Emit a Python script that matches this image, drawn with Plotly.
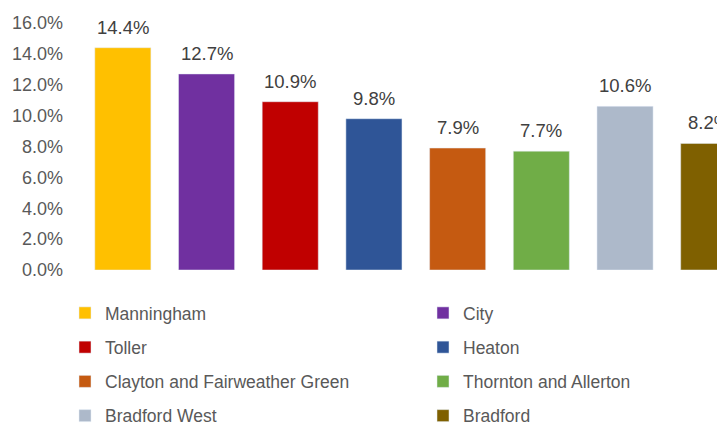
import plotly.graph_objects as go

categories = ["Manningham", "City", "Toller", "Heaton",
              "Clayton and Fairweather Green", "Thornton and Allerton",
              "Bradford West", "Bradford"]
values = [14.4, 12.7, 10.9, 9.8, 7.9, 7.7, 10.6, 8.2]
colors = ["#FFC000", "#7030A0", "#C00000", "#2F5597",
          "#C55A11", "#70AD47", "#ADB9CA", "#7F6000"]
tick_vals = [0, 2, 4, 6, 8, 10, 12, 14, 16]
tick_text = ["0.0%", "2.0%", "4.0%", "6.0%", "8.0%", "10.0%", "12.0%", "14.0%", "16.0%"]

W, H = 725, 423
fig = go.Figure()
for i, (c, v, col) in enumerate(zip(categories, values, colors)):
    fig.add_trace(go.Bar(
        x=[c], y=[v], name=c, marker_color=col, width=0.67,
        legend="legend" if i % 2 == 0 else "legend2",
        legendgroup=c, showlegend=True,
    ))
    fig.add_annotation(x=c, y=v, text=f"{v:.1f}%", showarrow=False,
                       yanchor="bottom", yshift=8,
                       font=dict(family="Liberation Sans", size=18.5, color="#404040"))

leg_common = dict(
    orientation="v", xref="container", yref="container",
    xanchor="left", yanchor="top",
    font=dict(family="Liberation Sans", size=17.5, color="#595959"),
    bgcolor="rgba(0,0,0,0)", tracegroupgap=8.5, itemclick=False,
)
fig.update_layout(
    width=W, height=H,
    margin=dict(l=73, r=0, t=14.5, b=161, autoexpand=False),
    plot_bgcolor="white", paper_bgcolor="white",
    barmode="overlay",
    showlegend=True,
    legend=dict(x=57 / W, y=1 - 287 / H, **leg_common),
    legend2=dict(x=415 / W, y=1 - 287 / H, **leg_common),
    xaxis=dict(range=[-0.5, 7.29], showticklabels=False, showgrid=False,
               zeroline=False, showline=False, fixedrange=True),
    yaxis=dict(range=[0, 16], tickvals=tick_vals, ticktext=tick_text,
               showgrid=False, zeroline=False,
               showline=False, ticklabelstandoff=17,
               tickfont=dict(family="Liberation Sans", size=18, color="#595959")),
)
fig.write_html("out.html")
